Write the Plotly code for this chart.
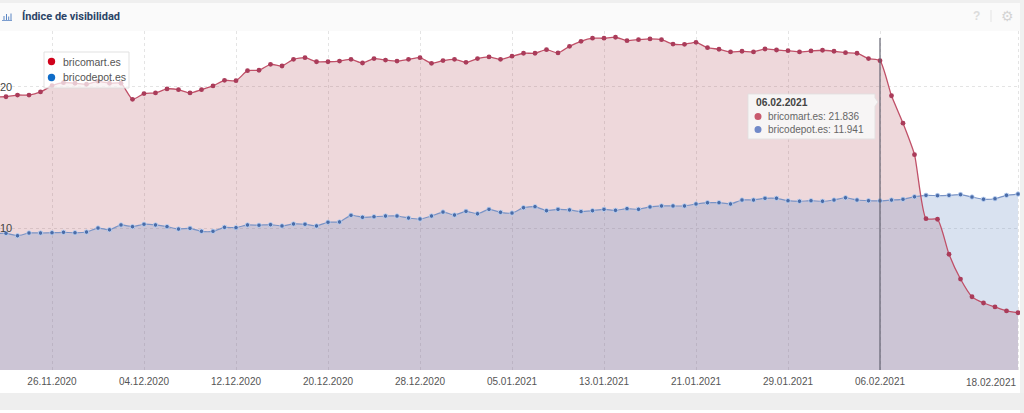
import pandas as pd
import plotly.graph_objects as go

W, H = 1024, 413
PLOT_L, PLOT_R, PLOT_T, PLOT_B = 0, 1020, 31, 370

dates = pd.date_range("2020-11-21", "2021-02-18", freq="D")
names = ["bricomart.es", "bricodepot.es"]
tick_dates = ["2020-11-26", "2020-12-04", "2020-12-12", "2020-12-20", "2020-12-28",
              "2021-01-05", "2021-01-13", "2021-01-21", "2021-01-29", "2021-02-06"]
tick_labels = ["26.11.2020", "04.12.2020", "12.12.2020", "20.12.2020", "28.12.2020",
               "05.01.2021", "13.01.2021", "21.01.2021", "29.01.2021", "06.02.2021"]
last_tick_date = "2021-02-18"
last_tick_label = "18.02.2021"
y_ticks = [10, 20]
tooltip_date = "2021-02-06"
tooltip_label = "06.02.2021"

bricomart = [
    19.27, 19.29, 19.41, 19.41, 19.63, 20.07, 20.28, 20.24, 20.17, 20.38,
    20.24, 20.24, 19.11, 19.51, 19.56, 19.84, 19.79, 19.56, 19.79, 20.05,
    20.45, 20.42, 21.13, 21.16, 21.58, 21.46, 21.93, 22.05, 21.76, 21.76,
    21.81, 21.93, 21.67, 21.98, 21.88, 21.81, 21.93, 22.05, 21.65, 21.84,
    21.93, 21.72, 21.98, 22.10, 21.93, 22.15, 22.36, 22.36, 22.61, 22.38,
    22.85, 23.20, 23.42, 23.42, 23.49, 23.25, 23.32, 23.37, 23.32, 23.01,
    22.99, 23.13, 22.75, 22.64, 22.45, 22.50, 22.45, 22.66, 22.59, 22.54,
    22.45, 22.52, 22.57, 22.50, 22.40, 22.36, 21.98, 21.836, 19.36, 17.42,
    15.20, 10.68, 10.64, 8.17, 6.42, 5.17, 4.73, 4.45, 4.17, 4.05,
]
bricodepot = [
    9.63, 9.65, 9.48, 9.67, 9.67, 9.69, 9.72, 9.69, 9.74, 10.02,
    9.90, 10.24, 10.12, 10.29, 10.24, 10.12, 9.95, 10.00, 9.79, 9.79,
    10.07, 10.05, 10.24, 10.22, 10.26, 10.17, 10.31, 10.29, 10.17, 10.43,
    10.45, 10.92, 10.78, 10.82, 10.87, 10.87, 10.73, 10.66, 10.87, 11.15,
    10.94, 11.20, 11.03, 11.34, 11.13, 11.08, 11.46, 11.53, 11.25, 11.34,
    11.30, 11.18, 11.25, 11.34, 11.27, 11.39, 11.34, 11.51, 11.58, 11.58,
    11.58, 11.72, 11.81, 11.81, 11.72, 12.00, 12.00, 12.12, 12.12, 11.95,
    11.91, 11.95, 11.91, 12.00, 12.16, 12.00, 11.95, 11.941, 12.00, 12.05,
    12.23, 12.33, 12.31, 12.33, 12.38, 12.21, 12.05, 12.09, 12.33, 12.42,
]

FONT = "Liberation Sans, Arial, sans-serif"
px = lambda x: x / W
py = lambda y: 1 - y / H

fig = go.Figure()
spline = dict(shape="spline", smoothing=0.55)


def fill_trace(vals, color):
    fig.add_trace(go.Scatter(x=dates, y=vals, mode="lines", fill="tozeroy", fillcolor=color,
                             line=dict(width=0, **spline), showlegend=False, hoverinfo="skip"))


fill_trace(bricomart, "rgba(170,60,75,0.2)")
fill_trace(bricodepot, "rgba(103,139,195,0.25)")

fig.add_trace(go.Scatter(x=dates, y=bricodepot, mode="lines+markers", showlegend=False,
                         line=dict(color="#7a94c6", width=1.2, **spline),
                         marker=dict(size=4.5, color="#4a6ca8", line=dict(width=1, color="rgba(190,212,245,0.85)")),
                         name=names[1]))
fig.add_trace(go.Scatter(x=dates, y=bricomart, mode="lines+markers", showlegend=False,
                         line=dict(color="#c05068", width=1.3, **spline),
                         marker=dict(size=4.8, color="#aa3c5a"),
                         name=names[0]))

shapes = []


def rect(x0, y0, x1, y1, color):
    shapes.append(dict(type="rect", xref="paper", yref="paper", x0=px(x0), x1=px(x1), y0=py(y0), y1=py(y1),
                       fillcolor=color, line=dict(width=0), layer="below"))


def dot(cx, cy, r, color):
    shapes.append(dict(type="circle", xref="paper", yref="paper", x0=px(cx - r), x1=px(cx + r),
                       y0=py(cy + r), y1=py(cy - r), fillcolor=color, line=dict(width=0), layer="above"))


rect(0, 0, W, 3, "#efefef")
rect(0, 3, W, 31, "#fafafa")
rect(1020, 0, W, H, "#f0f0f0")
rect(0, 393, W, 410, "#eeeeee")

# header icon
for x0, y0, x1, y1 in [(2, 20, 12, 20.8), (3.5, 16, 4.5, 20), (6, 14, 7, 20), (8.2, 16.5, 9.2, 20), (10.5, 13.5, 11.5, 20)]:
    shapes.append(dict(type="rect", xref="paper", yref="paper", x0=px(x0), x1=px(x1), y0=py(y0), y1=py(y1),
                       fillcolor="#5b86c4", line=dict(width=0), layer="above"))
# header separator
shapes.append(dict(type="line", xref="paper", yref="paper", x0=px(991), x1=px(991), y0=py(10), y1=py(22),
                   line=dict(color="#e4e4e4", width=1), layer="above"))

# crosshair
shapes.append(dict(type="line", xref="x", yref="paper", x0=tooltip_date, x1=tooltip_date,
                   y0=py(370), y1=py(38), line=dict(color="rgba(95,95,110,0.72)", width=1.6), layer="above"))

# legend box
shapes.append(dict(type="rect", xref="paper", yref="paper", x0=px(44), x1=px(129), y0=py(88), y1=py(52),
                   fillcolor="rgba(255,255,255,0.72)", line=dict(color="rgba(222,222,222,0.9)", width=1), layer="above"))
dot(51.5, 61.5, 3.7, "#d0021b")
dot(51.5, 77.5, 3.7, "#0f6cc8")

# tooltip box with caret
tip = (f"M{px(748)},{py(94)} L{px(875)},{py(94)} L{px(875)},{py(98)} L{px(878)},{py(102)} "
       f"L{px(875)},{py(106)} L{px(875)},{py(139)} L{px(748)},{py(139)} Z")
shapes.append(dict(type="path", xref="paper", yref="paper", path=tip, fillcolor="rgba(247,247,247,0.92)",
                   line=dict(color="rgba(225,225,225,0.9)", width=1), layer="above"))
dot(758, 116.5, 3.5, "#c85a6e")
dot(758, 129.5, 3.5, "#7189c8")

annotations = []


def text(x, y, s, size=11, color="#555555", xanchor="left", family=FONT):
    annotations.append(dict(xref="paper", yref="paper", x=px(x), y=py(y), text=s, showarrow=False,
                            xanchor=xanchor, yanchor="middle", align="left",
                            font=dict(family=family, size=size, color=color), borderpad=0))


text(21, 17, "<b>Índice de visibilidad</b>", size=11, color="#2b4467", family="Roboto, Arial, sans-serif")
text(976, 16, "<b>?</b>", size=12, color="#dcdcdc", xanchor="center")
text(1007, 16, "⚙", size=14, color="#d4d4d4", xanchor="center", family="DejaVu Sans")

text(62, 61.5, names[0], size=10.5, color="#555555")
text(62, 77.5, names[1], size=10.5, color="#555555")

idx = list(dates.strftime("%Y-%m-%d")).index(tooltip_date)
text(755, 103, f"<b>{tooltip_label}</b>", size=10.3, color="#444444")
text(767, 116.5, f"{names[0]}: {bricomart[idx]:.3f}", size=10, color="#666666")
text(767, 129.5, f"{names[1]}: {bricodepot[idx]:.3f}", size=10, color="#666666")
text(1017, 382.7, last_tick_label, size=10, color="#555555", xanchor="right")

x_left = pd.Timestamp("2020-11-26") - pd.Timedelta(days=(52 - PLOT_L) / 11.5)
x_right = pd.Timestamp("2021-02-06") + pd.Timedelta(days=(PLOT_R - 880) / 11.5)

fig.update_layout(
    width=W, height=H, autosize=False,
    margin=dict(l=0, r=0, t=0, b=0, pad=0, autoexpand=False),
    paper_bgcolor="white", plot_bgcolor="rgba(0,0,0,0)", showlegend=False,
    font=dict(family=FONT, size=11, color="#555555"),
    xaxis=dict(domain=[px(PLOT_L), px(PLOT_R)], type="date", range=[x_left, x_right],
               tickmode="array", tickvals=tick_dates + [last_tick_date], ticktext=tick_labels + [""],
               ticks="", showline=False, zeroline=False, showgrid=True,
               gridcolor="#e4e4e4", griddash="3px,3px", gridwidth=1,
               tickfont=dict(size=10, color="#555555"), ticklabelstandoff=4, tickangle=0),
    yaxis=dict(domain=[py(PLOT_B), py(PLOT_T)], range=[0, 23.93], tickmode="array", tickvals=y_ticks,
               ticktext=[str(v) for v in y_ticks], ticks="", showline=False, zeroline=False,
               showgrid=True, gridcolor="#e4e4e4", griddash="3px,3px", gridwidth=1,
               ticklabelposition="inside", ticklabelstandoff=-3, tickfont=dict(size=11, color="#444444")),
    shapes=shapes, annotations=annotations, hovermode=False,
)

fig.write_html("out.html", config=dict(displayModeBar=False),
               post_script="document.body.style.margin='0';document.body.style.overflow='hidden';")
